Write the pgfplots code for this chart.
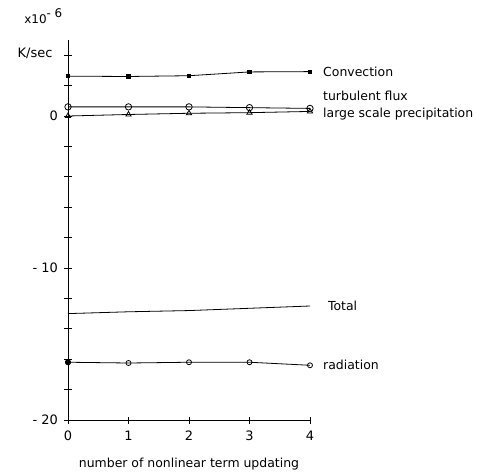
\documentclass[border=0pt]{standalone}
\usepackage{pgfplots}
\pgfplotsset{compat=1.18}
\usepackage{fontspec}
\setmainfont{DejaVu Sans}

\begin{document}
\begin{tikzpicture}
\path[use as bounding box] (0,0) rectangle (499bp,-475bp);
\begin{axis}[
  at={(68bp,-420bp)}, anchor=south west,
  scale only axis, width=242bp, height=380bp,
  xmin=0, xmax=4, ymin=-20, ymax=5,
  axis x line*=bottom, axis y line*=left,
  axis line style={-, line width=0.9bp},
  enlargelimits=false, clip=false,
  xtick={0,1,2,3,4},
  ytick={-20,-10,0},
  yticklabels={{- 20},{- 10},{0}},
  minor ytick={-18,-16,-14,-12,-8,-6,-4,-2,2,4},
  tick align=center,
  major tick length=7bp, minor tick length=7bp,
  tick style={black, line width=0.8bp},
  tick label style={font=\fontsize{13}{15}\selectfont},
  xticklabel style={yshift=-4bp},
  yticklabel style={xshift=-3bp},
  /pgf/number format/assume math mode=true,
  xlabel={number of nonlinear term updating},
  xlabel style={font=\fontsize{12.5}{14}\selectfont, yshift=-10bp},
  every axis plot/.append style={black, line width=0.8bp},
]
% Convection
\addplot[mark=square*, mark size=1.6bp] coordinates {(0,2.62) (1,2.6) (2,2.65) (3,2.9) (4,2.92)};
% turbulent flux
\addplot[mark=o, mark size=3.2bp, mark options={fill=white}] coordinates {(0,0.6) (1,0.6) (2,0.6) (3,0.55) (4,0.5)};
% large scale precipitation
\addplot[mark=triangle, mark size=3bp] coordinates {(0,0.0) (1,0.1) (2,0.18) (3,0.22) (4,0.3)};
% Total
\addplot[no marks] coordinates {(0,-13.0) (1,-12.88) (2,-12.8) (3,-12.65) (4,-12.5)};
% radiation
\addplot[mark=o, mark size=2.5bp, mark options={fill=white}] coordinates {(0,-16.2) (1,-16.25) (2,-16.2) (3,-16.2) (4,-16.4)};
\addplot[only marks, mark=*, mark size=2.5bp] coordinates {(0,-16.2)};

\node[anchor=west, font=\fontsize{12.5}{14}\selectfont] at (axis cs:4.16,2.9) {Convection};
\node[anchor=west, font=\fontsize{12.5}{14}\selectfont] at (axis cs:4.16,1.35) {turbulent flux};
\node[anchor=west, font=\fontsize{12.5}{14}\selectfont] at (axis cs:4.16,0.15) {large scale precipitation};
\node[anchor=west, font=\fontsize{12.5}{14}\selectfont] at (axis cs:4.24,-12.5) {Total};
\node[anchor=west, font=\fontsize{12.5}{14}\selectfont] at (axis cs:4.16,-16.4) {radiation};
\node[anchor=east, font=\fontsize{13}{15}\selectfont] at (axis cs:-0.2,4.1) {K/sec};
\node[anchor=west, font=\fontsize{12}{14}\selectfont] at (axis cs:-0.78,6.6) {x10\raisebox{6bp}{- 6}};
\end{axis}
\end{tikzpicture}
\end{document}
